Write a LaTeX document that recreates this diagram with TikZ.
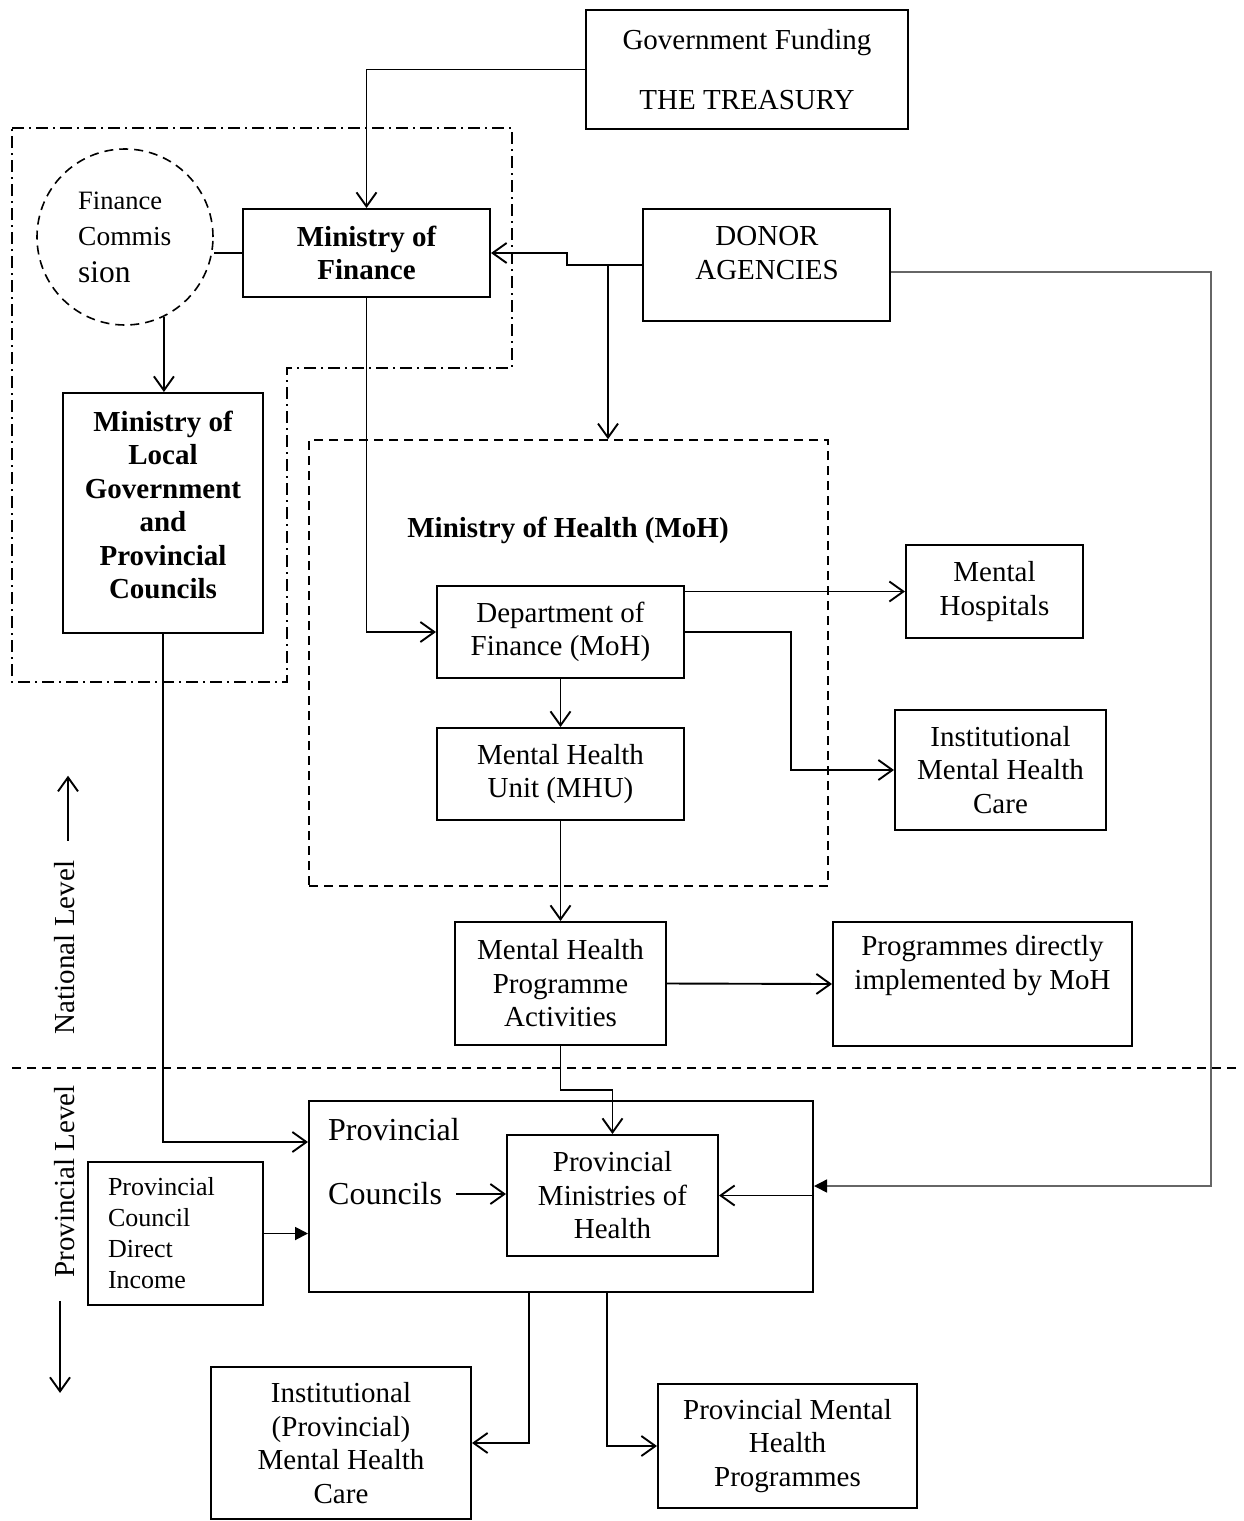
\documentclass[tikz,border=0pt]{standalone}
\usepackage{fontspec}
\setmainfont{Liberation Serif}
\usetikzlibrary{arrows.meta}
\begin{document}
\begin{tikzpicture}[x=1pt,y=-1pt,
  every node/.style={font=\fontsize{29}{33.5}\selectfont, inner sep=0pt},
  box/.style={draw, line width=2pt, align=center},
  bfont/.style={font=\fontsize{29}{33.5}\selectfont\bfseries},
  arr/.style={line width=1.9pt, -{Straight Barb[length=14pt,width=20pt,line width=1.9pt]}},
  farr/.style={line width=1.9pt, -{Triangle[length=13pt,width=13pt]}},
  plain/.style={line width=1.9pt},
  grayarr/.style={line width=1.5pt, draw=black!60, -{Triangle[length=13pt,width=13pt,color=black]}},
  dashdot/.style={line width=1.4pt, dash pattern=on 12pt off 5pt on 2pt off 5pt},
  dsh/.style={line width=1.6pt, dash pattern=on 9pt off 6pt},
]
\useasboundingbox (0,0) rectangle (1243,1521);

% dash-dot region
\coordinate (r1) at (12,128);
\coordinate (r2) at (512,128);
\coordinate (r3) at (512,368);
\coordinate (r4) at (287,368);
\coordinate (r5) at (287,682);
\coordinate (r6) at (12,682);
\draw[dashdot] (r1) -- (r2) -- (r3) -- (r4) -- (r5) -- (r6) -- cycle;

% level divider
\coordinate (d1) at (12,1068);
\coordinate (d2) at (1238,1068);
\draw[dsh] (d1) -- (d2);

% nodes
\node[box, minimum width=322pt, minimum height=119pt] (treas) at (747,69.5) {Government Funding\\[26pt]THE TREASURY};
\node[box, bfont, minimum width=247pt, minimum height=88pt] (mof) at (366.5,253) {Ministry of\\Finance};
\node[draw, dsh, circle, minimum size=176pt] (fc) at (125,237) {};
\node[anchor=west, font=\fontsize{26.5}{30}\selectfont] (fc1) at (78,201) {Finance};
\node[anchor=west, font=\fontsize{27.5}{30}\selectfont] (fc2) at (78,237) {Commis};
\node[anchor=west, font=\fontsize{31.5}{34}\selectfont] (fc3) at (78,272) {sion};
\node[box, bfont, minimum width=200pt, minimum height=240pt] (mlg) at (163,513) {Ministry of\\Local\\Government\\and\\Provincial\\Councils\\[-17.5pt]\mbox{}};
\node[box, minimum width=247pt, minimum height=112pt] (donor) at (766.5,265) {};
\node (donort) at (767,253) [align=center] {DONOR\\AGENCIES};
\node[draw, dsh, minimum width=519pt, minimum height=446pt] (moh) at (568.5,663) {};
\node[bfont] (moht) at (568,530) {Ministry of Health (MoH)};
\node[box, minimum width=247pt, minimum height=92pt] (dof) at (560.5,632) {Department of\\Finance (MoH)};
\node[box, minimum width=177pt, minimum height=93pt] (mh) at (994.5,591.5) {Mental\\Hospitals};
\node[box, minimum width=211pt, minimum height=120pt] (imhc) at (1000.5,770) {Institutional\\Mental Health\\Care};
\node[box, minimum width=247pt, minimum height=92pt] (mhu) at (560.5,774) {Mental Health\\Unit (MHU)};
\node[box, minimum width=211pt, minimum height=123pt] (mhpa) at (560.5,983.5) {Mental Health\\Programme\\Activities};
\node[box, minimum width=299pt, minimum height=124pt] (pd) at (982.5,984) {Programmes directly\\implemented by MoH\\\strut};
\node[box, minimum width=504pt, minimum height=191pt] (pc) at (561,1196.5) {};
\node[anchor=west, font=\fontsize{32}{36}\selectfont] (pct) at (328,1130) {Provincial};
\node[anchor=west, font=\fontsize{32}{36}\selectfont] (cl) at (328,1194) {Councils};
\node[box, minimum width=211pt, minimum height=121pt] (pmh) at (612.5,1195.5) {Provincial\\Ministries of\\Health};
\node[box, minimum width=175pt, minimum height=143pt, text width=135pt, align=left, font=\fontsize{26}{31}\selectfont] (pcdi) at (175.5,1233.5) {Provincial\\Council\\Direct\\Income};
\node[box, minimum width=260pt, minimum height=152pt] (ipm) at (341,1443) {Institutional\\(Provincial)\\Mental Health\\Care};
\node[box, minimum width=259pt, minimum height=124pt] (pmhp) at (787.5,1446) {Provincial Mental\\Health\\Programmes};

% level labels
\node[rotate=90] (nl) at (65,947.5) {National Level};
\node[rotate=90] (pl) at (65,1181.5) {Provincial Level};
\draw[arr] ([xshift=3pt,yshift=20pt]nl.east) -- ([xshift=3pt,yshift=85pt]nl.east);
\draw[arr] ([xshift=-5pt,yshift=-23pt]pl.west) -- ([xshift=-5pt,yshift=-115pt]pl.west);

% connectors
\draw[arr] (treas.west) -| (mof.north);
\draw[plain] (mof.west) -- (mof.west -| fc.east);
\draw[arr] (fc.-64) -- (fc.-64 |- mlg.north);
\draw[arr] (donor.west) -- ++(-75,0) |- (mof.east);
\coordinate (dj) at (608,265);
\draw[arr] (dj) -- (dj |- moh.north);
\coordinate (rc) at (1211,1186);
\draw[grayarr] ([yshift=-7pt]donor.east) -| (rc) -- (rc -| pc.east);
\draw[arr] (pc.east |- pmh.east) -- (pmh.east);
\draw[arr] (mof.south) |- (dof.west);
\draw[arr] (dof.east |- mh.west) -- (mh.west);
\draw[arr] (dof.east) -- ++(106,0) |- (imhc.west);
\draw[arr] (dof.south) -- (mhu.north);
\draw[arr] (mhu.south) -- (mhpa.north);
\draw[arr] (mhpa.east) -- (pd.west);
\draw[arr] (mhpa.south) -- ++(0,44) -| (pmh.north);
\draw[arr] (mlg.south) |- ([yshift=54.5pt]pc.west);
\draw[farr] (pcdi.east) -- (pcdi.east -| pc.west);
\draw[arr] ([xshift=14pt]cl.east) -- (cl.east -| pmh.west);
\draw[arr] ([xshift=-32pt]pc.south) |- (ipm.east);
\draw[arr] ([xshift=46pt]pc.south) |- (pmhp.west);
\end{tikzpicture}
\end{document}
